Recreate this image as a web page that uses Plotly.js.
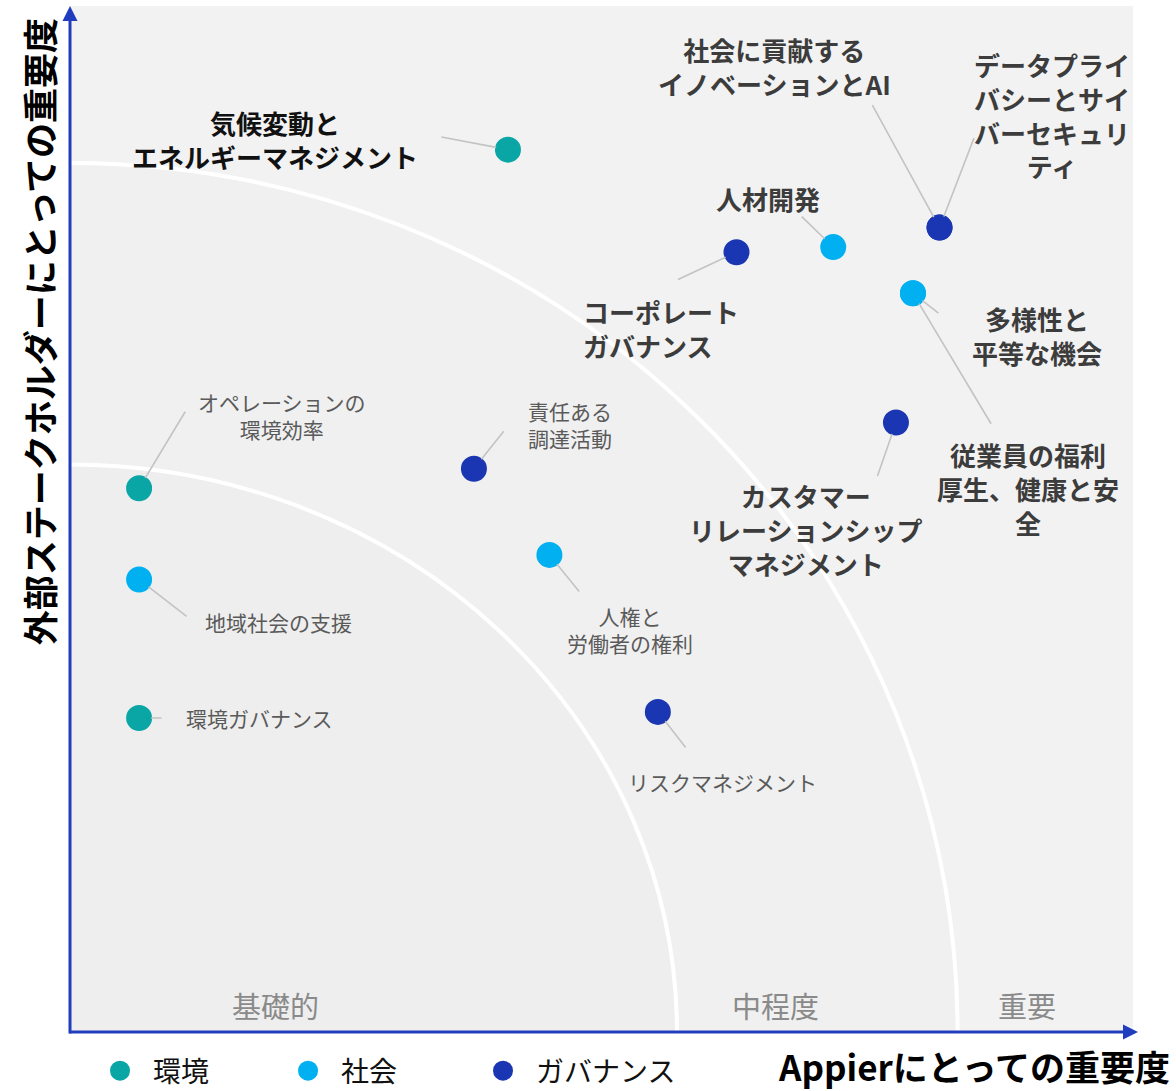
<!DOCTYPE html>
<html><head><meta charset="utf-8">
<script src="https://cdn.plot.ly/plotly-3.0.1.min.js"></script>
<style>html,body{margin:0;padding:0;background:#fff}#chart{width:1176px;height:1091px}</style>
</head><body><div id="chart"></div>
<script>
const FONT = '"Noto Sans CJK JP", "Noto Sans", sans-serif';

// ---- data ----
const seriesNames = ['環境', '社会', 'ガバナンス'];
const seriesColors = ['#0aa6a6', '#00b0f0', '#1a36b2'];

const envTopics = ['気候変動とエネルギーマネジメント', 'オペレーションの環境効率', '環境ガバナンス'];
const envX = [4.12, 0.65, 0.65];
const envY = [8.60, 5.30, 3.06];

const socTopics = ['地域社会の支援', '人権と労働者の権利', '人材開発', '多様性と平等な機会', '従業員の福利厚生、健康と安全'];
const socX = [0.65, 4.51, 7.18, 7.93, 7.93];
const socY = [4.41, 4.65, 7.65, 7.20, 7.20];

const govTopics = ['責任ある調達活動', 'リスクマネジメント', 'コーポレートガバナンス', '社会に貢献するイノベーションとAI', 'データプライバシーとサイバーセキュリティ', 'カスタマーリレーションシップマネジメント'];
const govX = [3.80, 5.53, 6.27, 8.18, 8.18, 7.77];
const govY = [5.49, 3.12, 7.60, 7.84, 7.84, 5.94];

const zoneLabels = ['基礎的', '中程度', '重要'];
const zoneLabelX = [1.93, 6.64, 9.00];
const zoneRadiiX = [5.71, 8.35];
const zoneRadiiY = [5.53, 8.47];

const xTitle = 'Appierにとっての重要度';
const yTitle = '外部ステークホルダーにとっての重要度';

// ---- label styling (pixel offsets from the point) ----
const labelStyle = {
  '気候変動とエネルギーマネジメント': {text: '気候変動と<br>エネルギーマネジメント', dx: -233, dy: -10, bold: true, color: '#111111', lx: -68, ly: -13},
  'オペレーションの環境効率': {text: 'オペレーションの<br>環境効率', dx: 143, dy: -73, lx: 47, ly: -78},
  '環境ガバナンス': {text: '環境ガバナンス', dx: 120, dy: 0, lx: 24, ly: 0},
  '地域社会の支援': {text: '地域社会の支援', dx: 139, dy: 42, lx: 49, ly: 38},
  '人権と労働者の権利': {text: '人権と<br>労働者の権利', dx: 81, dy: 75, lx: 31, ly: 38},
  '人材開発': {text: '人材開発', dx: -65, dy: -49, bold: true, lx: -33, ly: -32},
  '多様性と平等な機会': {text: '多様性と<br>平等な機会', dx: 124, dy: 42, bold: true, lx: 27, ly: 21},
  '従業員の福利厚生、健康と安全': {text: '従業員の福利<br>厚生、健康と安<br>全', dx: 115, dy: 195, bold: true, lx: 79, ly: 132},
  '責任ある調達活動': {text: '責任ある<br>調達活動', dx: 96, dy: -44, lx: 31, ly: -39},
  'リスクマネジメント': {text: 'リスクマネジメント', dx: 65, dy: 70, lx: 29, ly: 37},
  'コーポレートガバナンス': {text: 'コーポレート<br>ガバナンス', dx: -156, dy: 76, bold: true, anchor: 'left', lx: -60, ly: 28},
  '社会に貢献するイノベーションとAI': {text: '社会に貢献する<br>イノベーションとAI', dx: -165, dy: -161, bold: true, lx: -68, ly: -124},
  'データプライバシーとサイバーセキュリティ': {text: 'データプライ<br>バシーとサイ<br>バーセキュリ<br>ティ', dx: 112, dy: -113, bold: true, lx: 35, ly: -91},
  'カスタマーリレーションシップマネジメント': {text: 'カスタマー<br>リレーションシップ<br>マネジメント', dx: -90, dy: 107, bold: true, lx: -19, ly: 55}
};

const series = [
  {names: envTopics, x: envX, y: envY},
  {names: socTopics, x: socX, y: socY},
  {names: govTopics, x: govX, y: govY}
];

const legendIds = ['legend', 'legend2', 'legend3'];
const legendX = [0.0160, 0.1929, 0.3763];

const traces = series.map((s, i) => ({
  type: 'scatter', mode: 'markers', name: seriesNames[i], legend: legendIds[i],
  x: s.x, y: s.y, text: s.names, hoverinfo: 'text',
  marker: {size: 22, color: seriesColors[i], line: {width: 4, color: seriesColors[i]}},
  cliponaxis: false
}));

const annotations = [];
series.forEach(s => {
  s.names.forEach((n, j) => {
    const st = labelStyle[n];
    // leader line
    annotations.push({
      x: s.x[j], y: s.y[j], xref: 'x', yref: 'y', text: '', showarrow: true,
      arrowhead: 0, arrowwidth: 1.6, arrowcolor: '#c3c3c3', ax: st.lx, ay: st.ly, standoff: 12,
      font: {size: 1}
    });
    // label
    annotations.push({
      x: s.x[j], y: s.y[j], xref: 'x', yref: 'y', text: st.text, showarrow: false,
      xshift: st.dx, yshift: -st.dy,
      xanchor: st.anchor || 'center', yanchor: 'middle', align: st.anchor || 'center',
      font: {family: FONT, size: st.bold ? 26 : 21, color: st.color || (st.bold ? '#3c3c3c' : '#5a5a5a'), weight: st.bold ? 'bold' : 'normal'}
    });
  });
});

zoneLabels.forEach((t, i) => annotations.push({
  x: zoneLabelX[i], y: 0.26, xref: 'x', yref: 'y', text: t, showarrow: false,
  xanchor: 'center', yanchor: 'middle', font: {family: FONT, size: 29, color: '#8a8a8a'}
}));

// axis arrows
const AX = '#1f3dbd';
annotations.push({x: 0, y: 1.0, xref: 'paper', yref: 'paper', text: '', showarrow: true, arrowhead: 2, arrowsize: 1, arrowwidth: 3, arrowcolor: AX, ax: 0, ay: 1029, standoff: 0, font: {size: 1}});
annotations.push({x: 1.0047, y: 0, xref: 'paper', yref: 'paper', text: '', showarrow: true, arrowhead: 2, arrowsize: 1, arrowwidth: 3, arrowcolor: AX, ax: -1070, ay: 0, standoff: 0, font: {size: 1}});

// axis titles
annotations.push({x: -0.0301, y: 0.682, xref: 'paper', yref: 'paper', text: yTitle, showarrow: false, textangle: -90,
  xanchor: 'center', yanchor: 'middle', font: {family: FONT, size: 35, color: '#000', weight: 'bold'}});
annotations.push({x: 1.0367, y: -0.0322, xref: 'paper', yref: 'paper', text: xTitle, showarrow: false,
  xanchor: 'right', yanchor: 'middle', font: {family: FONT, size: 35, color: '#000', weight: 'bold'}});

const shapes = [
  {type: 'circle', xref: 'x', yref: 'y', x0: -zoneRadiiX[1], x1: zoneRadiiX[1], y0: -zoneRadiiY[1], y1: zoneRadiiY[1],
   fillcolor: '#f0f0f0', line: {color: '#ffffff', width: 4}, layer: 'below'},
  {type: 'circle', xref: 'x', yref: 'y', x0: -zoneRadiiX[0], x1: zoneRadiiX[0], y0: -zoneRadiiY[0], y1: zoneRadiiY[0],
   fillcolor: '#eeeeee', line: {color: '#ffffff', width: 4}, layer: 'below'}
];

const layout = {
  width: 1176, height: 1091,
  margin: {l: 70, r: 43, t: 6, b: 59, autoexpand: false},
  paper_bgcolor: '#ffffff', plot_bgcolor: '#f2f2f2',
  font: {family: FONT},
  xaxis: {range: [0, 10], showgrid: false, zeroline: false, showticklabels: false, ticks: '', fixedrange: true, automargin: false},
  yaxis: {range: [0, 10], showgrid: false, zeroline: false, showticklabels: false, ticks: '', fixedrange: true, automargin: false},
  showlegend: true,
  shapes: shapes,
  annotations: annotations,
  hovermode: 'closest'
};
legendIds.forEach((id, i) => {
  layout[id] = {orientation: 'h', x: legendX[i], y: -0.0136, xanchor: 'left', yanchor: 'top',
    font: {family: FONT, size: 28, color: '#111'}, itemwidth: 56,
    bgcolor: 'rgba(0,0,0,0)', itemclick: false, itemdoubleclick: false};
});

Plotly.newPlot('chart', traces, layout, {displayModeBar: false, responsive: false});
</script>
</body></html>
